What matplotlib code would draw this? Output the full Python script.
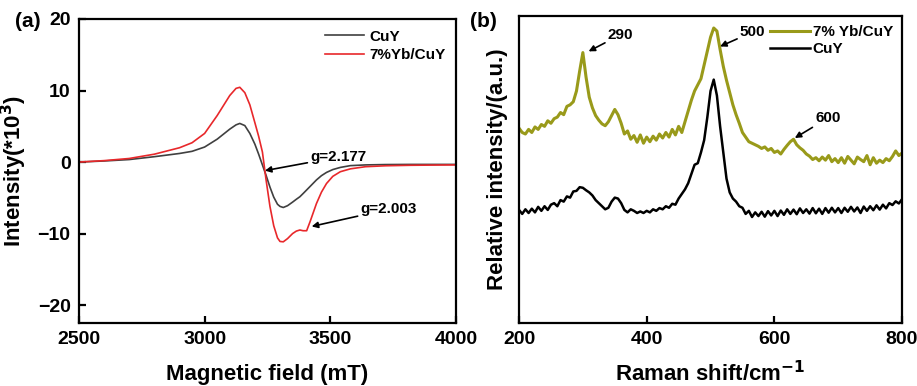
import numpy as np
import matplotlib
matplotlib.use('Agg')
import matplotlib.pyplot as plt

plt.rcParams['font.family'] = ['Liberation Sans', 'DejaVu Sans']
plt.rcParams['font.weight'] = 'bold'
plt.rcParams['axes.labelweight'] = 'bold'

# (a) EPR spectra
field = [2500, 2600, 2700, 2800, 2900, 2950, 3000, 3050, 3100, 3125,
         3140, 3160, 3180, 3200, 3215, 3230, 3245, 3260, 3275, 3290,
         3300, 3313, 3330, 3350, 3365, 3379, 3392, 3406, 3420, 3445,
         3465, 3485, 3510, 3540, 3580, 3640, 3720, 3820, 3920, 4000]
epr_cuy = [0.0, 0.15, 0.35, 0.75, 1.2, 1.5, 2.1, 3.2, 4.6, 5.2,
           5.4, 5.1, 4.0, 2.5, 1.1, -0.4, -1.9, -3.5, -4.9, -5.9,
           -6.2, -6.35, -6.1, -5.6, -5.2, -4.85, -4.4, -3.9, -3.4, -2.5,
           -1.9, -1.45, -1.05, -0.75, -0.5, -0.4, -0.35, -0.33, -0.33, -0.33]
epr_yb = [0.0, 0.2, 0.5, 1.1, 2.0, 2.7, 4.0, 6.5, 9.3, 10.3,
          10.45, 9.7, 8.0, 5.5, 3.6, 1.4, -2.6, -6.2, -8.9, -10.6,
          -11.1, -11.15, -10.7, -10.0, -9.65, -9.5, -9.6, -9.6, -8.3, -5.8,
          -4.2, -3.0, -2.0, -1.35, -0.95, -0.65, -0.52, -0.45, -0.42, -0.4]

# (b) Raman spectra, 200-800 cm-1 every 5 cm-1
raman_shift = np.arange(200, 801, 5)
raman_yb = [63.4, 62.0, 61.5, 63.0, 62.0, 63.8, 63.0, 64.6, 64.0, 65.8,
            65.0, 66.5, 67.0, 68.5, 67.8, 70.5, 71.0, 72.0, 75.5, 82.0,
            88.0, 80.0, 73.5, 70.0, 67.5, 66.0, 64.8, 64.2, 65.5, 67.5,
            69.5, 67.8, 65.0, 61.5, 62.5, 59.8, 61.0, 58.8, 61.2, 58.5,
            60.5, 59.0, 60.8, 59.5, 61.5, 60.2, 62.0, 60.5, 63.0, 61.2,
            64.0, 62.0, 65.5, 69.0, 72.5, 75.5, 77.5, 79.5, 84.0, 88.5,
            93.0, 96.0, 95.0, 89.0, 83.5, 79.0, 75.0, 71.0, 67.8, 65.0,
            62.0, 60.5, 59.0, 58.5, 58.0, 57.5, 56.8, 57.3, 56.2, 56.8,
            55.5, 56.0, 55.0, 56.5, 57.8, 59.0, 59.8, 58.0, 57.0, 56.2,
            55.0, 54.3, 53.2, 53.8, 52.8, 54.0, 53.0, 54.5, 52.5, 53.5,
            52.2, 53.8, 52.0, 54.2, 53.0, 51.8, 54.0, 53.2, 52.5, 54.5,
            51.5, 53.8, 52.0, 53.0, 52.2, 53.5, 52.8, 54.2, 56.0, 54.5,
            55.3]
raman_cuy = [36.8, 35.5, 37.0, 35.8, 37.2, 36.0, 37.8, 36.5, 38.0, 36.8,
             38.5, 39.0, 38.0, 40.0, 39.5, 41.2, 40.8, 42.8, 43.0, 44.2,
             44.0, 43.2, 42.5, 41.5, 40.0, 39.0, 38.0, 37.0, 37.5, 39.5,
             40.8, 40.5, 39.0, 36.8, 36.0, 37.0, 36.5, 35.8, 36.3, 35.8,
             36.5, 36.0, 37.0, 36.5, 37.4, 37.0, 38.0, 37.5, 38.8, 38.5,
             40.5, 42.0, 43.5, 45.5, 48.5, 51.5, 52.0, 55.5, 59.5, 67.0,
             75.5, 79.2, 74.0, 64.0, 55.5, 47.0, 42.5, 40.5, 39.5, 38.0,
             37.5, 35.5, 36.5, 34.5, 36.0, 34.8, 36.2, 34.6, 36.4, 35.0,
             36.5, 34.8, 36.6, 35.2, 37.0, 35.5, 36.9, 35.4, 37.3, 35.8,
             37.0, 35.6, 37.4, 35.7, 37.2, 35.5, 37.4, 35.9, 37.5, 36.0,
             37.4, 35.8, 37.5, 36.2, 37.8, 36.3, 37.6, 35.8, 37.9, 36.5,
             38.0, 36.7, 38.3, 36.9, 38.5, 37.3, 39.0, 38.4, 39.6, 38.9,
             40.3]

fig = plt.figure(figsize=(9.17, 3.86), dpi=100)
ax1 = fig.add_axes([0.0861, 0.1632, 0.4111, 0.7876])
ax2 = fig.add_axes([0.566, 0.1632, 0.4177, 0.7961])

for ax in (ax1, ax2):
    for sp in ax.spines.values():
        sp.set_linewidth(1.6)
    ax.tick_params(direction='in', width=1.6, length=5, labelsize=14, pad=6)

arrow = dict(arrowstyle='-|>', color='black', lw=1.2, mutation_scale=9,
             shrinkA=0, shrinkB=0)

# panel (a)
ax1.plot(field, epr_cuy, color='#404040', lw=1.2, label='CuY')
ax1.plot(field, epr_yb, color='#e8282b', lw=1.2, label='7%Yb/CuY')
ax1.set_xlim(2500, 4000)
ax1.set_ylim(-22.5, 20)
ax1.set_xticks([2500, 3000, 3500, 4000])
ax1.set_yticks([-20, -10, 0, 10, 20])
ax1.set_xlabel('Magnetic field (mT)', fontsize=16, labelpad=11)
ax1.set_ylabel('Intensity(*10$^\\mathbf{3}$)', fontsize=16, labelpad=6)
ax1.legend(loc='upper right', frameon=False, fontsize=11, handlelength=2.6,
           handletextpad=0.3, labelspacing=0.3, borderaxespad=0.3)
ax1.annotate('g=2.177', xy=(3240, -1.2), xytext=(3420, 0.7), fontsize=11,
             va='center', arrowprops=arrow)
ax1.annotate('g=2.003', xy=(3426, -9.0), xytext=(3620, -6.6), fontsize=11,
             va='center', arrowprops=arrow)
fig.text(0.016, 0.93, '(a)', fontsize=15, fontweight='bold')

# panel (b)
ax2.plot(raman_shift, raman_yb, color='#999a1a', lw=2.2, label='7% Yb/CuY')
ax2.plot(raman_shift, raman_cuy, color='black', lw=1.8, label='CuY')
ax2.set_xlim(200, 800)
ax2.set_ylim(0, 100)
ax2.set_xticks([200, 400, 600, 800])
ax2.set_yticks([])
ax2.set_xlabel('Raman shift/cm$^{\\mathbf{-1}}$', fontsize=16, labelpad=9)
ax2.set_ylabel('Relative intensity/(a.u.)', fontsize=16, labelpad=8)
ax2.legend(loc='upper right', frameon=False, fontsize=11, handlelength=2.6,
           handletextpad=0.2, labelspacing=0.2, borderaxespad=0.2)
ax2.annotate('290', xy=(309, 88.4), xytext=(339, 93.8), fontsize=11,
             va='center', arrowprops=arrow)
ax2.annotate('500', xy=(515, 90), xytext=(546, 94.7), fontsize=11,
             va='center', arrowprops=arrow)
ax2.annotate('600', xy=(632, 60.2), xytext=(664, 66.7), fontsize=11,
             va='center', arrowprops=arrow)
fig.text(0.513, 0.93, '(b)', fontsize=15, fontweight='bold')

fig.savefig('out.png', dpi=100)
